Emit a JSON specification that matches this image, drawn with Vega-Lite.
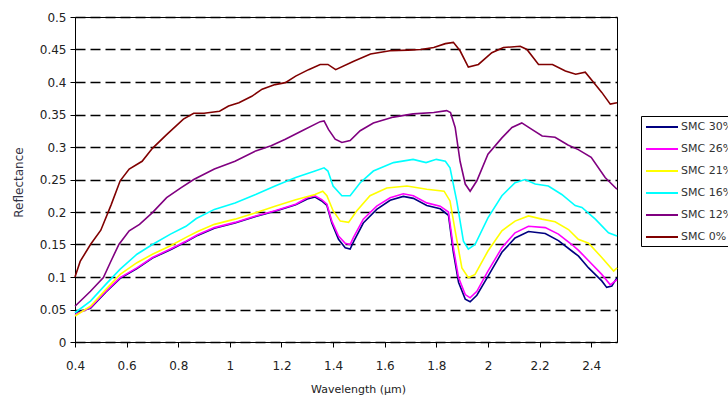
{
"$schema": "https://vega.github.io/schema/vega-lite/v6.json",
"width": 542, "height": 325,
"autosize": {"type": "none"},
"padding": {"left": 75, "top": 17, "right": 111, "bottom": 59},
"background": "white",
"config": {"view": {"stroke": "black", "strokeWidth": 1}, "font": "DejaVu Sans"},
"datasets": {
"d": [
{"s":"SMC 30%","w":0.40,"r":0.045},{"s":"SMC 30%","w":0.46,"r":0.052},{"s":"SMC 30%","w":0.52,"r":0.077},{"s":"SMC 30%","w":0.575,"r":0.098},{"s":"SMC 30%","w":0.64,"r":0.113},{"s":"SMC 30%","w":0.70,"r":0.129},{"s":"SMC 30%","w":0.77,"r":0.142},{"s":"SMC 30%","w":0.83,"r":0.154},{"s":"SMC 30%","w":0.875,"r":0.164},{"s":"SMC 30%","w":0.94,"r":0.175},{"s":"SMC 30%","w":1.02,"r":0.183},{"s":"SMC 30%","w":1.10,"r":0.193},{"s":"SMC 30%","w":1.175,"r":0.201},{"s":"SMC 30%","w":1.255,"r":0.211},{"s":"SMC 30%","w":1.30,"r":0.220},{"s":"SMC 30%","w":1.33,"r":0.223},{"s":"SMC 30%","w":1.356,"r":0.217},{"s":"SMC 30%","w":1.376,"r":0.210},{"s":"SMC 30%","w":1.395,"r":0.183},{"s":"SMC 30%","w":1.421,"r":0.158},{"s":"SMC 30%","w":1.447,"r":0.145},{"s":"SMC 30%","w":1.466,"r":0.143},{"s":"SMC 30%","w":1.479,"r":0.154},{"s":"SMC 30%","w":1.517,"r":0.183},{"s":"SMC 30%","w":1.569,"r":0.204},{"s":"SMC 30%","w":1.621,"r":0.218},{"s":"SMC 30%","w":1.672,"r":0.224},{"s":"SMC 30%","w":1.711,"r":0.221},{"s":"SMC 30%","w":1.763,"r":0.210},{"s":"SMC 30%","w":1.815,"r":0.205},{"s":"SMC 30%","w":1.847,"r":0.195},{"s":"SMC 30%","w":1.866,"r":0.138},{"s":"SMC 30%","w":1.886,"r":0.092},{"s":"SMC 30%","w":1.912,"r":0.066},{"s":"SMC 30%","w":1.931,"r":0.062},{"s":"SMC 30%","w":1.957,"r":0.072},{"s":"SMC 30%","w":2.00,"r":0.101},{"s":"SMC 30%","w":2.054,"r":0.138},{"s":"SMC 30%","w":2.105,"r":0.160},{"s":"SMC 30%","w":2.157,"r":0.170},{"s":"SMC 30%","w":2.222,"r":0.167},{"s":"SMC 30%","w":2.273,"r":0.156},{"s":"SMC 30%","w":2.325,"r":0.140},{"s":"SMC 30%","w":2.351,"r":0.132},{"s":"SMC 30%","w":2.39,"r":0.114},{"s":"SMC 30%","w":2.441,"r":0.094},{"s":"SMC 30%","w":2.46,"r":0.084},{"s":"SMC 30%","w":2.48,"r":0.086},{"s":"SMC 30%","w":2.50,"r":0.099},
{"s":"SMC 26%","w":0.40,"r":0.042},{"s":"SMC 26%","w":0.46,"r":0.053},{"s":"SMC 26%","w":0.52,"r":0.078},{"s":"SMC 26%","w":0.575,"r":0.099},{"s":"SMC 26%","w":0.64,"r":0.114},{"s":"SMC 26%","w":0.70,"r":0.130},{"s":"SMC 26%","w":0.77,"r":0.143},{"s":"SMC 26%","w":0.83,"r":0.155},{"s":"SMC 26%","w":0.875,"r":0.165},{"s":"SMC 26%","w":0.94,"r":0.176},{"s":"SMC 26%","w":1.02,"r":0.184},{"s":"SMC 26%","w":1.10,"r":0.194},{"s":"SMC 26%","w":1.175,"r":0.202},{"s":"SMC 26%","w":1.255,"r":0.212},{"s":"SMC 26%","w":1.30,"r":0.222},{"s":"SMC 26%","w":1.33,"r":0.225},{"s":"SMC 26%","w":1.356,"r":0.219},{"s":"SMC 26%","w":1.376,"r":0.212},{"s":"SMC 26%","w":1.395,"r":0.186},{"s":"SMC 26%","w":1.421,"r":0.163},{"s":"SMC 26%","w":1.447,"r":0.152},{"s":"SMC 26%","w":1.466,"r":0.150},{"s":"SMC 26%","w":1.479,"r":0.161},{"s":"SMC 26%","w":1.517,"r":0.189},{"s":"SMC 26%","w":1.569,"r":0.209},{"s":"SMC 26%","w":1.621,"r":0.222},{"s":"SMC 26%","w":1.672,"r":0.228},{"s":"SMC 26%","w":1.711,"r":0.225},{"s":"SMC 26%","w":1.763,"r":0.214},{"s":"SMC 26%","w":1.815,"r":0.209},{"s":"SMC 26%","w":1.847,"r":0.200},{"s":"SMC 26%","w":1.866,"r":0.145},{"s":"SMC 26%","w":1.886,"r":0.099},{"s":"SMC 26%","w":1.912,"r":0.073},{"s":"SMC 26%","w":1.931,"r":0.068},{"s":"SMC 26%","w":1.957,"r":0.078},{"s":"SMC 26%","w":2.00,"r":0.109},{"s":"SMC 26%","w":2.054,"r":0.145},{"s":"SMC 26%","w":2.105,"r":0.168},{"s":"SMC 26%","w":2.157,"r":0.178},{"s":"SMC 26%","w":2.222,"r":0.176},{"s":"SMC 26%","w":2.273,"r":0.166},{"s":"SMC 26%","w":2.325,"r":0.150},{"s":"SMC 26%","w":2.351,"r":0.141},{"s":"SMC 26%","w":2.39,"r":0.125},{"s":"SMC 26%","w":2.441,"r":0.104},{"s":"SMC 26%","w":2.474,"r":0.088},{"s":"SMC 26%","w":2.50,"r":0.096},
{"s":"SMC 21%","w":0.40,"r":0.040},{"s":"SMC 21%","w":0.46,"r":0.055},{"s":"SMC 21%","w":0.52,"r":0.081},{"s":"SMC 21%","w":0.575,"r":0.104},{"s":"SMC 21%","w":0.64,"r":0.122},{"s":"SMC 21%","w":0.70,"r":0.135},{"s":"SMC 21%","w":0.77,"r":0.148},{"s":"SMC 21%","w":0.83,"r":0.161},{"s":"SMC 21%","w":0.875,"r":0.170},{"s":"SMC 21%","w":0.94,"r":0.181},{"s":"SMC 21%","w":1.02,"r":0.189},{"s":"SMC 21%","w":1.10,"r":0.199},{"s":"SMC 21%","w":1.175,"r":0.209},{"s":"SMC 21%","w":1.255,"r":0.219},{"s":"SMC 21%","w":1.33,"r":0.227},{"s":"SMC 21%","w":1.36,"r":0.232},{"s":"SMC 21%","w":1.376,"r":0.225},{"s":"SMC 21%","w":1.40,"r":0.202},{"s":"SMC 21%","w":1.428,"r":0.186},{"s":"SMC 21%","w":1.46,"r":0.184},{"s":"SMC 21%","w":1.492,"r":0.202},{"s":"SMC 21%","w":1.543,"r":0.225},{"s":"SMC 21%","w":1.608,"r":0.237},{"s":"SMC 21%","w":1.686,"r":0.240},{"s":"SMC 21%","w":1.763,"r":0.235},{"s":"SMC 21%","w":1.83,"r":0.232},{"s":"SMC 21%","w":1.853,"r":0.217},{"s":"SMC 21%","w":1.873,"r":0.171},{"s":"SMC 21%","w":1.899,"r":0.114},{"s":"SMC 21%","w":1.924,"r":0.099},{"s":"SMC 21%","w":1.95,"r":0.104},{"s":"SMC 21%","w":2.00,"r":0.140},{"s":"SMC 21%","w":2.054,"r":0.171},{"s":"SMC 21%","w":2.105,"r":0.186},{"s":"SMC 21%","w":2.157,"r":0.194},{"s":"SMC 21%","w":2.209,"r":0.189},{"s":"SMC 21%","w":2.26,"r":0.185},{"s":"SMC 21%","w":2.312,"r":0.173},{"s":"SMC 21%","w":2.35,"r":0.158},{"s":"SMC 21%","w":2.39,"r":0.152},{"s":"SMC 21%","w":2.441,"r":0.130},{"s":"SMC 21%","w":2.487,"r":0.109},{"s":"SMC 21%","w":2.50,"r":0.114},
{"s":"SMC 16%","w":0.40,"r":0.045},{"s":"SMC 16%","w":0.46,"r":0.063},{"s":"SMC 16%","w":0.52,"r":0.089},{"s":"SMC 16%","w":0.575,"r":0.112},{"s":"SMC 16%","w":0.64,"r":0.135},{"s":"SMC 16%","w":0.70,"r":0.150},{"s":"SMC 16%","w":0.77,"r":0.166},{"s":"SMC 16%","w":0.83,"r":0.178},{"s":"SMC 16%","w":0.87,"r":0.190},{"s":"SMC 16%","w":0.94,"r":0.204},{"s":"SMC 16%","w":1.02,"r":0.214},{"s":"SMC 16%","w":1.10,"r":0.227},{"s":"SMC 16%","w":1.175,"r":0.240},{"s":"SMC 16%","w":1.255,"r":0.253},{"s":"SMC 16%","w":1.33,"r":0.263},{"s":"SMC 16%","w":1.365,"r":0.268},{"s":"SMC 16%","w":1.38,"r":0.263},{"s":"SMC 16%","w":1.40,"r":0.240},{"s":"SMC 16%","w":1.434,"r":0.225},{"s":"SMC 16%","w":1.466,"r":0.225},{"s":"SMC 16%","w":1.505,"r":0.245},{"s":"SMC 16%","w":1.556,"r":0.263},{"s":"SMC 16%","w":1.634,"r":0.276},{"s":"SMC 16%","w":1.71,"r":0.281},{"s":"SMC 16%","w":1.76,"r":0.276},{"s":"SMC 16%","w":1.80,"r":0.281},{"s":"SMC 16%","w":1.835,"r":0.278},{"s":"SMC 16%","w":1.853,"r":0.268},{"s":"SMC 16%","w":1.879,"r":0.217},{"s":"SMC 16%","w":1.905,"r":0.155},{"s":"SMC 16%","w":1.924,"r":0.143},{"s":"SMC 16%","w":1.95,"r":0.150},{"s":"SMC 16%","w":2.00,"r":0.191},{"s":"SMC 16%","w":2.054,"r":0.225},{"s":"SMC 16%","w":2.105,"r":0.245},{"s":"SMC 16%","w":2.144,"r":0.250},{"s":"SMC 16%","w":2.183,"r":0.243},{"s":"SMC 16%","w":2.234,"r":0.240},{"s":"SMC 16%","w":2.286,"r":0.227},{"s":"SMC 16%","w":2.338,"r":0.210},{"s":"SMC 16%","w":2.364,"r":0.207},{"s":"SMC 16%","w":2.416,"r":0.189},{"s":"SMC 16%","w":2.467,"r":0.168},{"s":"SMC 16%","w":2.50,"r":0.163},
{"s":"SMC 12%","w":0.40,"r":0.055},{"s":"SMC 12%","w":0.46,"r":0.078},{"s":"SMC 12%","w":0.51,"r":0.099},{"s":"SMC 12%","w":0.54,"r":0.125},{"s":"SMC 12%","w":0.57,"r":0.150},{"s":"SMC 12%","w":0.61,"r":0.171},{"s":"SMC 12%","w":0.65,"r":0.181},{"s":"SMC 12%","w":0.70,"r":0.199},{"s":"SMC 12%","w":0.755,"r":0.222},{"s":"SMC 12%","w":0.81,"r":0.237},{"s":"SMC 12%","w":0.86,"r":0.250},{"s":"SMC 12%","w":0.94,"r":0.266},{"s":"SMC 12%","w":1.02,"r":0.278},{"s":"SMC 12%","w":1.10,"r":0.294},{"s":"SMC 12%","w":1.16,"r":0.302},{"s":"SMC 12%","w":1.215,"r":0.312},{"s":"SMC 12%","w":1.28,"r":0.325},{"s":"SMC 12%","w":1.35,"r":0.339},{"s":"SMC 12%","w":1.365,"r":0.340},{"s":"SMC 12%","w":1.382,"r":0.327},{"s":"SMC 12%","w":1.408,"r":0.312},{"s":"SMC 12%","w":1.434,"r":0.307},{"s":"SMC 12%","w":1.466,"r":0.310},{"s":"SMC 12%","w":1.505,"r":0.325},{"s":"SMC 12%","w":1.556,"r":0.337},{"s":"SMC 12%","w":1.634,"r":0.346},{"s":"SMC 12%","w":1.71,"r":0.351},{"s":"SMC 12%","w":1.79,"r":0.353},{"s":"SMC 12%","w":1.84,"r":0.356},{"s":"SMC 12%","w":1.855,"r":0.353},{"s":"SMC 12%","w":1.873,"r":0.330},{"s":"SMC 12%","w":1.892,"r":0.278},{"s":"SMC 12%","w":1.912,"r":0.243},{"s":"SMC 12%","w":1.931,"r":0.232},{"s":"SMC 12%","w":1.957,"r":0.248},{"s":"SMC 12%","w":2.00,"r":0.289},{"s":"SMC 12%","w":2.054,"r":0.314},{"s":"SMC 12%","w":2.093,"r":0.330},{"s":"SMC 12%","w":2.131,"r":0.337},{"s":"SMC 12%","w":2.17,"r":0.327},{"s":"SMC 12%","w":2.21,"r":0.317},{"s":"SMC 12%","w":2.26,"r":0.315},{"s":"SMC 12%","w":2.31,"r":0.303},{"s":"SMC 12%","w":2.35,"r":0.296},{"s":"SMC 12%","w":2.40,"r":0.284},{"s":"SMC 12%","w":2.454,"r":0.253},{"s":"SMC 12%","w":2.50,"r":0.235},
{"s":"SMC 0%","w":0.40,"r":0.100},{"s":"SMC 0%","w":0.42,"r":0.124},{"s":"SMC 0%","w":0.46,"r":0.150},{"s":"SMC 0%","w":0.50,"r":0.172},{"s":"SMC 0%","w":0.54,"r":0.211},{"s":"SMC 0%","w":0.575,"r":0.248},{"s":"SMC 0%","w":0.61,"r":0.266},{"s":"SMC 0%","w":0.66,"r":0.278},{"s":"SMC 0%","w":0.70,"r":0.298},{"s":"SMC 0%","w":0.755,"r":0.319},{"s":"SMC 0%","w":0.82,"r":0.343},{"s":"SMC 0%","w":0.86,"r":0.352},{"s":"SMC 0%","w":0.90,"r":0.352},{"s":"SMC 0%","w":0.96,"r":0.355},{"s":"SMC 0%","w":0.995,"r":0.363},{"s":"SMC 0%","w":1.035,"r":0.368},{"s":"SMC 0%","w":1.085,"r":0.378},{"s":"SMC 0%","w":1.125,"r":0.389},{"s":"SMC 0%","w":1.175,"r":0.396},{"s":"SMC 0%","w":1.215,"r":0.399},{"s":"SMC 0%","w":1.255,"r":0.409},{"s":"SMC 0%","w":1.305,"r":0.419},{"s":"SMC 0%","w":1.35,"r":0.427},{"s":"SMC 0%","w":1.38,"r":0.427},{"s":"SMC 0%","w":1.41,"r":0.419},{"s":"SMC 0%","w":1.48,"r":0.432},{"s":"SMC 0%","w":1.545,"r":0.443},{"s":"SMC 0%","w":1.62,"r":0.448},{"s":"SMC 0%","w":1.69,"r":0.449},{"s":"SMC 0%","w":1.74,"r":0.450},{"s":"SMC 0%","w":1.79,"r":0.453},{"s":"SMC 0%","w":1.835,"r":0.459},{"s":"SMC 0%","w":1.866,"r":0.461},{"s":"SMC 0%","w":1.892,"r":0.448},{"s":"SMC 0%","w":1.924,"r":0.423},{"s":"SMC 0%","w":1.963,"r":0.427},{"s":"SMC 0%","w":2.015,"r":0.445},{"s":"SMC 0%","w":2.06,"r":0.453},{"s":"SMC 0%","w":2.125,"r":0.455},{"s":"SMC 0%","w":2.151,"r":0.450},{"s":"SMC 0%","w":2.196,"r":0.427},{"s":"SMC 0%","w":2.25,"r":0.427},{"s":"SMC 0%","w":2.30,"r":0.417},{"s":"SMC 0%","w":2.34,"r":0.412},{"s":"SMC 0%","w":2.377,"r":0.415},{"s":"SMC 0%","w":2.416,"r":0.396},{"s":"SMC 0%","w":2.441,"r":0.384},{"s":"SMC 0%","w":2.474,"r":0.366},{"s":"SMC 0%","w":2.50,"r":0.368}
]
},
"data": {"name": "d"},
"mark": {"type": "line", "strokeWidth": 1.6},
"encoding": {
"x": {"field": "w", "type": "quantitative",
 "scale": {"domain": [0.4, 2.5], "nice": false, "zero": false},
 "axis": {"title": "Wavelength (µm)", "values": [0.4,0.6,0.8,1,1.2,1.4,1.6,1.8,2,2.2,2.4], "format": "~g", "grid": false,
  "domainColor": "black", "domainWidth": 1, "tickColor": "black", "tickSize": 5, "labelFlush": false,
  "labelFont": "DejaVu Sans", "labelFontSize": 12, "labelColor": "#222", "labelPadding": 13,
  "titleFont": "DejaVu Sans", "titleFontSize": 11, "titleFontWeight": "normal", "titleColor": "#222", "titlePadding": 12, "titleX": 283}},
"y": {"field": "r", "type": "quantitative",
 "scale": {"domain": [0, 0.5], "nice": false},
 "axis": {"title": "Reflectance", "values": [0,0.05,0.1,0.15,0.2,0.25,0.3,0.35,0.4,0.45,0.5], "format": "~g",
  "grid": true, "gridColor": "black", "gridDash": [10,5], "gridWidth": 1.5, "gridOpacity": 1,
  "domainColor": "black", "domainWidth": 1, "tickColor": "black", "tickSize": 5, "labelFlush": false,
  "labelFont": "DejaVu Sans", "labelFontSize": 12, "labelColor": "#222", "labelPadding": 4,
  "titleFont": "DejaVu Sans", "titleFontSize": 12, "titleFontWeight": "normal", "titleColor": "#334",
  "titleAngle": -90, "titleX": -57, "titleY": 165, "titleAlign": "center", "titleBaseline": "middle"}},
"color": {"field": "s", "type": "nominal",
 "scale": {"domain": ["SMC 30%","SMC 26%","SMC 21%","SMC 16%","SMC 12%","SMC 0%"],
   "range": ["#000080","#ff00ff","#ffff00","#00ffff","#800080","#800000"]},
 "legend": {"orient": "none", "legendX": 566, "legendY": 99, "title": null,
   "symbolType": "M-2.667,0H2.667", "symbolSize": 144, "symbolStrokeWidth": 2, "symbolOffset": 10,
   "labelFont": "DejaVu Sans", "labelFontSize": 11, "labelColor": "#333", "labelOffset": 12,
   "rowPadding": 10, "padding": 4, "strokeColor": "black", "fillColor": "white"}}
}
}
